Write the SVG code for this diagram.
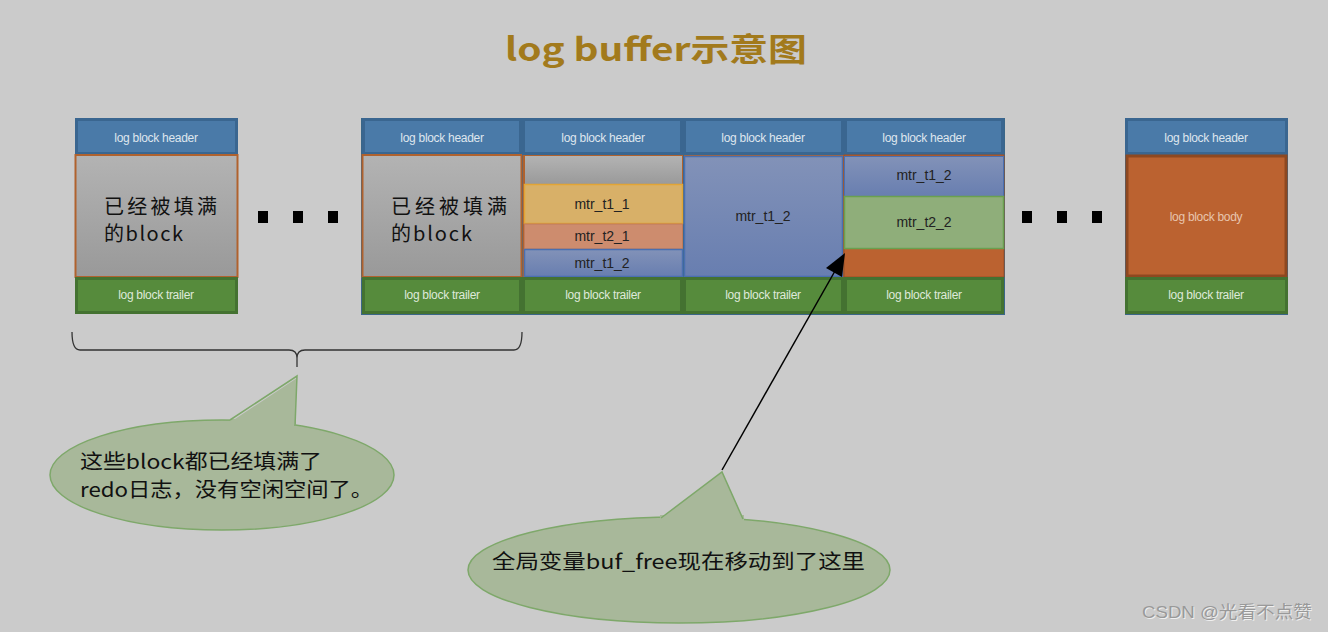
<svg xmlns="http://www.w3.org/2000/svg" width="1328" height="632" viewBox="0 0 1328 632">
<style>
.hdr{fill:#4a7aa8;stroke:#3a6690;stroke-width:3}
.trl{fill:#568b3c;stroke:#447231;stroke-width:3}
.hl{font-family:"Liberation Sans",Arial,sans-serif;font-size:12px;fill:#dfe6ee;text-anchor:middle;letter-spacing:-0.3px}
.tl{font-family:"Liberation Sans",Arial,sans-serif;font-size:12px;fill:#dfe9da;text-anchor:middle;letter-spacing:-0.3px}
.mtr{font-family:"Liberation Sans",Arial,sans-serif;font-size:14px;fill:#222;text-anchor:middle}
.cn{font-family:"Noto Sans CJK SC","Liberation Mono",monospace;font-size:20px;fill:#111}
.dot{fill:#000}
.call{fill:#a8b89a;stroke:#7ea86a;stroke-width:1.5}
</style>
<defs>
<linearGradient id="gray" x1="0" y1="0" x2="0" y2="1"><stop offset="0" stop-color="#b3b3b3"/><stop offset="1" stop-color="#999"/></linearGradient>
<linearGradient id="blu" x1="0" y1="0" x2="0" y2="1"><stop offset="0" stop-color="#8292b8"/><stop offset="1" stop-color="#687eb0"/></linearGradient>
</defs>
<rect width="1328" height="632" fill="#cbcbcb"/>
<text x="656" y="61" font-family="Noto Sans CJK SC,Liberation Mono,monospace" font-size="32" font-weight="bold" fill="#a27a1c" text-anchor="middle" textLength="302" lengthAdjust="spacingAndGlyphs">log buffer示意图</text>

<g id="block1">
<rect x="75" y="118" width="163" height="196" fill="#3d6a4a"/>
<rect class="hdr" x="76.5" y="119.5" width="160" height="34"/>
<text class="hl" x="156" y="142">log block header</text>
<rect x="75.5" y="155" width="162" height="122" fill="url(#gray)" stroke="#b0622e" stroke-width="2"/>
<text class="cn" x="104" y="214" textLength="113" lengthAdjust="spacing">已经被填满</text>
<text class="cn" x="104" y="241" textLength="79" lengthAdjust="spacing">的block</text>
<rect class="trl" x="76.5" y="278.5" width="160" height="34"/>
<text class="tl" x="156" y="299">log block trailer</text>
</g>

<g id="dots1">
<rect class="dot" x="258" y="211" width="10" height="12"/>
<rect class="dot" x="293" y="211" width="10" height="12"/>
<rect class="dot" x="328" y="211" width="10" height="12"/>
</g>

<g id="group">
<rect x="361" y="118" width="644" height="197" fill="#3a6688"/>
</g>

<g id="col1">
<rect class="hdr" x="363.5" y="119.5" width="157" height="34"/>
<text class="hl" x="442" y="142">log block header</text>
<rect x="362.5" y="155" width="159" height="122" fill="url(#gray)" stroke="#b0622e" stroke-width="2"/>
<text class="cn" x="391" y="214" textLength="116" lengthAdjust="spacing">已经被填满</text>
<text class="cn" x="391" y="241" textLength="81" lengthAdjust="spacing">的block</text>
<rect class="trl" x="363.5" y="278.5" width="157" height="34"/>
<text class="tl" x="442" y="299">log block trailer</text>
</g>

<g id="col2">
<rect class="hdr" x="523.5" y="119.5" width="158" height="34"/>
<text class="hl" x="603" y="142">log block header</text>
<rect x="523" y="155" width="160" height="122" fill="#b0622e"/>
<rect x="525" y="156" width="157" height="29" fill="url(#gray)"/>
<rect x="524.5" y="184.5" width="158" height="39" fill="#d8b068" stroke="#e2a535" stroke-width="1.5"/>
<text class="mtr" x="602" y="209">mtr_t1_1</text>
<rect x="524.5" y="224" width="158" height="25" fill="#cd8c6e" stroke="#c07a5a" stroke-width="1"/>
<text class="mtr" x="602" y="241">mtr_t2_1</text>
<rect x="524.5" y="249.5" width="158" height="27" fill="url(#blu)" stroke="#4a6fb0" stroke-width="1.5"/>
<text class="mtr" x="602" y="268">mtr_t1_2</text>
<rect class="trl" x="523.5" y="278.5" width="158" height="34"/>
<text class="tl" x="603" y="299">log block trailer</text>
</g>

<g id="col3">
<rect class="hdr" x="684.5" y="119.5" width="158" height="34"/>
<text class="hl" x="763" y="142">log block header</text>
<rect x="684" y="155" width="160" height="122" fill="#b0622e"/>
<rect x="684.5" y="156.5" width="158" height="120" fill="url(#blu)" stroke="#4a6fb0" stroke-width="1.5"/>
<text class="mtr" x="763" y="221">mtr_t1_2</text>
<rect class="trl" x="684.5" y="278.5" width="158" height="34"/>
<text class="tl" x="763" y="299">log block trailer</text>
</g>

<g id="col4">
<rect class="hdr" x="845.5" y="119.5" width="157" height="34"/>
<text class="hl" x="924" y="142">log block header</text>
<rect x="844" y="155" width="160" height="122" fill="#bb6230" stroke="#9a4e24" stroke-width="1"/>
<rect x="844.5" y="156.5" width="159" height="40" fill="url(#blu)" stroke="#4a6fb0" stroke-width="1"/>
<text class="mtr" x="924" y="180">mtr_t1_2</text>
<rect x="844.5" y="196.5" width="159" height="52" fill="#8fae7a" stroke="#6aa050" stroke-width="1.5"/>
<text class="mtr" x="924" y="227">mtr_t2_2</text>
<rect class="trl" x="845.5" y="278.5" width="157" height="34"/>
<text class="tl" x="924" y="299">log block trailer</text>
</g>

<g id="dots2">
<rect class="dot" x="1022" y="211" width="10" height="12"/>
<rect class="dot" x="1057" y="211" width="10" height="12"/>
<rect class="dot" x="1092" y="211" width="10" height="12"/>
</g>

<g id="block-last">
<rect x="1125" y="118" width="163" height="197" fill="#3a6688"/>
<rect class="hdr" x="1126.5" y="119.5" width="160" height="34"/>
<text class="hl" x="1206" y="142">log block header</text>
<rect x="1127" y="156" width="159" height="120" fill="#bb6230" stroke="#8e4820" stroke-width="3"/>
<text class="hl" x="1206" y="221" style="fill:#e8c5ae">log block body</text>
<rect class="trl" x="1126.5" y="278.5" width="160" height="34"/>
<text class="tl" x="1206" y="299">log block trailer</text>
</g>

<g id="connectors">
<path d="M72,332 Q72,350 80,350 L289,350 Q297,350 297,358 Q297,350 305,350 L514,350 Q522,350 522,332" fill="none" stroke="#333" stroke-width="1.3"/>
<line x1="297" y1="358" x2="297" y2="367" stroke="#333" stroke-width="1.3"/>
<line x1="722" y1="470" x2="835" y2="271" stroke="#000" stroke-width="1.5"/>
<polygon points="845,253 826,268 842,277" fill="#000"/>
</g>

<g id="callout1">
<ellipse cx="222" cy="475" rx="172" ry="55" class="call"/>
<path d="M232,421 L297,378 L295,426 Z" fill="#a8b89a"/>
<rect x="230" y="419" width="66" height="10" fill="#a8b89a"/>
<path d="M230,420 L297,376 L295,426" fill="none" stroke="#7ea86a" stroke-width="1.5"/>
<text class="cn" x="80" y="469" textLength="242" lengthAdjust="spacingAndGlyphs">这些block都已经填满了</text>
<text class="cn" x="80" y="497" textLength="293" lengthAdjust="spacingAndGlyphs">redo日志，没有空闲空间了。</text>
</g>

<g id="callout2">
<ellipse cx="679" cy="570" rx="211" ry="53" class="call"/>
<path d="M661,518 L722,472 L743,519 Z" fill="#a8b89a"/>
<rect x="660" y="515" width="84" height="6" fill="#a8b89a"/>
<path d="M661,518 L722,472 L743,519" fill="none" stroke="#7ea86a" stroke-width="1.5"/>
<text class="cn" x="492" y="569" textLength="373" lengthAdjust="spacingAndGlyphs">全局变量buf_free现在移动到了这里</text>
</g>

<text x="1143" y="619" font-family="'Liberation Sans','Noto Sans CJK SC',sans-serif" font-size="17" fill="#fff" opacity="0.7" textLength="170" lengthAdjust="spacingAndGlyphs">CSDN @光看不点赞</text>
<text x="1142" y="618" font-family="'Liberation Sans','Noto Sans CJK SC',sans-serif" font-size="17" fill="#999" textLength="170" lengthAdjust="spacingAndGlyphs">CSDN @光看不点赞</text>
</svg>
